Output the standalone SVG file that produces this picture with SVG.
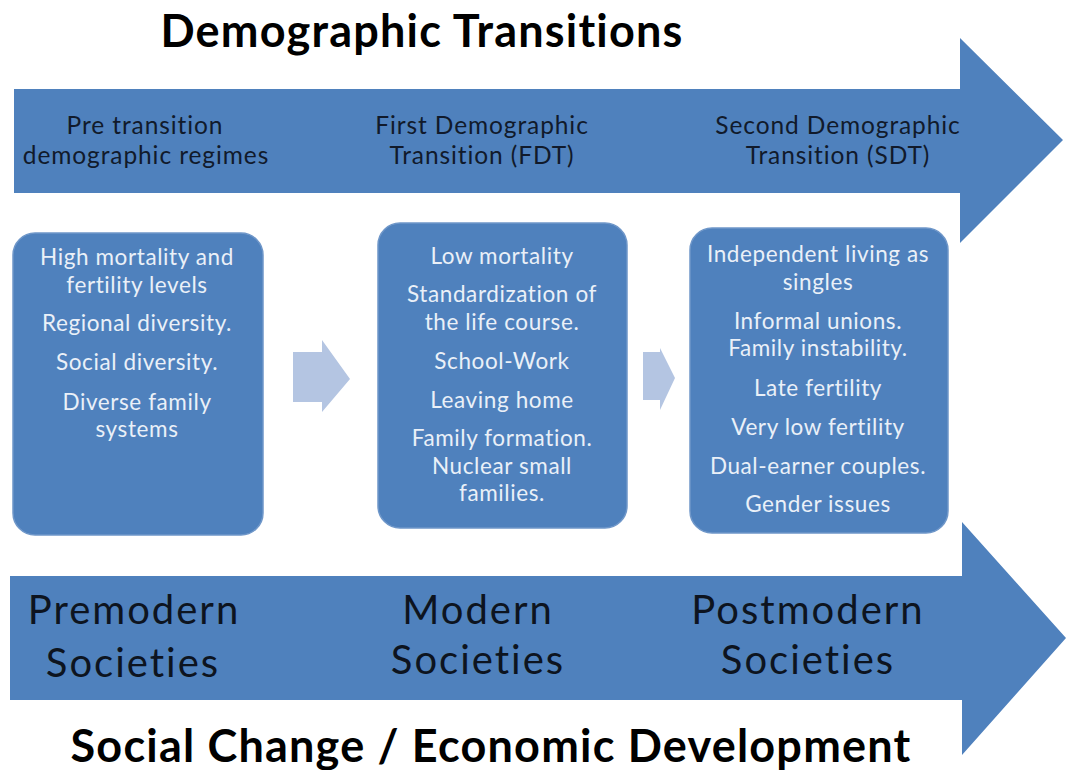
<svg xmlns="http://www.w3.org/2000/svg" width="1066" height="770" viewBox="0 0 1066 770">
<style>
.big{fill:#4f81bd}
.box{fill:#4f81bd;stroke:#6f97c9;stroke-width:1.5}
.small{fill:#b4c5e2}
.title{font-family:Lato,"Open Sans",sans-serif;font-weight:bold;font-size:45px;letter-spacing:1.2px;fill:#000;text-anchor:middle}
.hdr{font-family:Lato,"Open Sans",sans-serif;font-size:24.5px;letter-spacing:0.9px;fill:#111a2b;text-anchor:middle}
.soc{font-family:Lato,"Open Sans",sans-serif;font-size:40px;letter-spacing:2px;fill:#0d1420;text-anchor:middle}
.item{font-family:Lato,"Open Sans",sans-serif;font-size:22.5px;letter-spacing:0.6px;fill:#eaf0f8;text-anchor:middle}
</style>
<rect width="1066" height="770" fill="#fff"/>
<g id="top-arrow">
<polygon class="big" points="14,89 960,89 960,38 1063,140 960,243 960,193 14,193"/>
<text class="hdr" x="145" y="134">Pre transition</text>
<text class="hdr" x="146" y="164">demographic regimes</text>
<text class="hdr" x="482" y="134">First Demographic</text>
<text class="hdr" x="482" y="164">Transition (FDT)</text>
<text class="hdr" x="838" y="134">Second Demographic</text>
<text class="hdr" x="838" y="164">Transition (SDT)</text>
</g>
<g id="bottom-arrow">
<polygon class="big" points="10,576 962,576 962,522 1066,638 962,755 962,700 10,700"/>
<text class="soc" x="134" y="624">Premodern</text>
<text class="soc" x="133" y="677">Societies</text>
<text class="soc" x="478" y="624">Modern</text>
<text class="soc" x="478" y="674">Societies</text>
<text class="soc" x="808" y="624">Postmodern</text>
<text class="soc" x="808" y="674">Societies</text>
</g>
<text class="title" x="422" y="47">Demographic Transitions</text>
<text class="title" x="491" y="762">Social Change / Economic Development</text>
<g id="box-pre">
<rect class="box" x="13" y="233" width="250" height="302" rx="22"/>
<text class="item" x="137" y="265">High mortality and</text>
<text class="item" x="137" y="293">fertility levels</text>
<text class="item" x="137" y="331">Regional diversity.</text>
<text class="item" x="137" y="370">Social diversity.</text>
<text class="item" x="137" y="410">Diverse family</text>
<text class="item" x="137" y="437">systems</text>
</g>
<g id="box-fdt">
<rect class="box" x="378" y="223" width="249" height="305" rx="22"/>
<text class="item" x="502" y="264">Low mortality</text>
<text class="item" x="502" y="302">Standardization of</text>
<text class="item" x="502" y="330">the life course.</text>
<text class="item" x="502" y="369">School-Work</text>
<text class="item" x="502" y="408">Leaving home</text>
<text class="item" x="502" y="446">Family formation.</text>
<text class="item" x="502" y="474">Nuclear small</text>
<text class="item" x="502" y="501">families.</text>
</g>
<g id="box-sdt">
<rect class="box" x="690" y="228" width="258" height="305" rx="22"/>
<text class="item" x="818" y="262">Independent living as</text>
<text class="item" x="818" y="290">singles</text>
<text class="item" x="818" y="329">Informal unions.</text>
<text class="item" x="818" y="356">Family instability.</text>
<text class="item" x="818" y="396">Late fertility</text>
<text class="item" x="818" y="435">Very low fertility</text>
<text class="item" x="818" y="474">Dual-earner couples.</text>
<text class="item" x="818" y="512">Gender issues</text>
</g>
<g id="connectors">
<polygon class="small" points="293,352 322,352 322,340 350,379 322,412 322,402 293,402"/>
<polygon class="small" points="643,352 660,352 660,348 675,378 660,410 660,400 643,400"/>
</g>
</svg>
